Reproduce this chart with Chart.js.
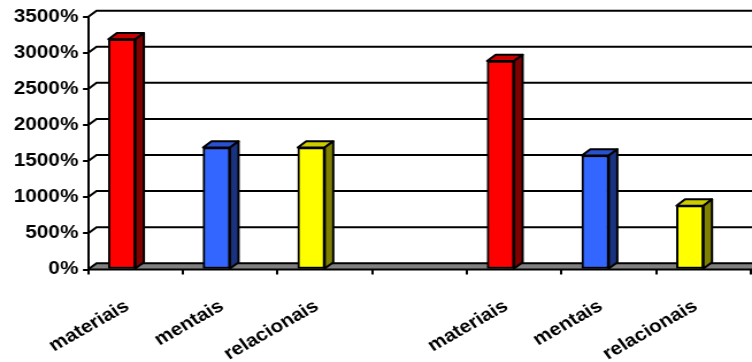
<!DOCTYPE html>
<html>
<head>
<meta charset="utf-8">
<script src="https://cdn.jsdelivr.net/npm/chart.js@4/dist/chart.umd.min.js"></script>
<style>
  html, body { margin: 0; padding: 0; background: #fff; overflow: hidden; }
  #chart { display: block; }
</style>
</head>
<body>
<canvas id="chart" width="654" height="362" style="width:752px;height:362px"></canvas>
<script>
// Categories along the floor (an empty slot separates the two groups)
const categories = ['materiais', 'mentais', 'relacionais', '', 'materiais', 'mentais', 'relacionais'];
// Column heights, in percent
const percentValues = [3190, 1690, 1690, null, 2890, 1580, 885];
// Value axis ticks
const yMin = 0;
const yMax = 3500;
const yStep = 500;

// Face colours per kind of column
const frontColors = ['#FF0000', '#3366FF', '#FFFF00', '#FFFFFF', '#FF0000', '#3366FF', '#FFFF00'];
const sideColors  = ['#800000', '#1A3380', '#808000', '#FFFFFF', '#800000', '#1A3380', '#808000'];
const topColors   = ['#C80000', '#2A52D0', '#CCCC00', '#FFFFFF', '#C80000', '#2A52D0', '#CCCC00'];

// The canvas is drawn narrower and widened by CSS, giving the wide lettering
const STRETCH = 752 / 654;
const DEPTH_X = 8.5 / STRETCH;
const DEPTH_Y = 6.3;
const LINE = '#000000';
const FLOOR = '#808080';

const depth3d = {
  id: 'depth3d',
  afterDatasetsUpdate(chart) {
    // front face sits to the left of the category centre, depth goes to the right
    const xs = chart.scales.x;
    chart.getDatasetMeta(0).data.forEach((el, i) => {
      el.x = xs.getPixelForValue(i) - el.width / 2;
    });
  },
  beforeDatasetsDraw(chart) {
    const { ctx, chartArea: a, scales: { y } } = chart;
    const w = chart.width;
    ctx.save();
    // floor
    const y0 = y.getPixelForValue(0);
    ctx.fillStyle = FLOOR;
    ctx.beginPath();
    ctx.moveTo(a.left, y0);
    ctx.lineTo(a.right + 20, y0);
    ctx.lineTo(a.right + 20, y0 - DEPTH_Y);
    ctx.lineTo(a.left + DEPTH_X, y0 - DEPTH_Y);
    ctx.closePath();
    ctx.fill();
    // back wall grid lines and side-wall diagonals
    ctx.strokeStyle = LINE;
    ctx.lineWidth = 2;
    ctx.lineCap = 'butt';
    for (let v = yMin; v <= yMax; v += yStep) {
      const py = y.getPixelForValue(v);
      ctx.beginPath();
      ctx.moveTo(a.left, py);
      ctx.lineTo(a.left + DEPTH_X, py - DEPTH_Y);
      ctx.lineTo(w + 5, py - DEPTH_Y);
      ctx.stroke();
    }
    // front edge of the floor
    ctx.beginPath();
    ctx.moveTo(a.left, y0);
    ctx.lineTo(w + 5, y0);
    ctx.stroke();
    ctx.restore();
  },
  afterDatasetsDraw(chart) {
    const { ctx } = chart;
    ctx.save();
    ctx.strokeStyle = LINE;
    ctx.lineWidth = 2;
    ctx.lineJoin = 'round';
    chart.getDatasetMeta(0).data.forEach((el, i) => {
      if (percentValues[i] === null) return;
      const { x, y, base, width } = el.getProps(['x', 'y', 'base', 'width'], true);
      const l = x - width / 2, r = x + width / 2;
      // top face
      ctx.fillStyle = topColors[i];
      ctx.beginPath();
      ctx.moveTo(l, y);
      ctx.lineTo(l + DEPTH_X, y - DEPTH_Y);
      ctx.lineTo(r + DEPTH_X, y - DEPTH_Y);
      ctx.lineTo(r, y);
      ctx.closePath();
      ctx.fill();
      ctx.stroke();
      // side face
      ctx.fillStyle = sideColors[i];
      ctx.beginPath();
      ctx.moveTo(r, y);
      ctx.lineTo(r + DEPTH_X, y - DEPTH_Y);
      ctx.lineTo(r + DEPTH_X, base - DEPTH_Y);
      ctx.lineTo(r, base);
      ctx.closePath();
      ctx.fill();
      ctx.stroke();
    });
    ctx.restore();
  }
};

const tickFont = { family: "'Liberation Sans', Arial, sans-serif", size: 18, weight: 'bold' };

new Chart(document.getElementById('chart'), {
  type: 'bar',
  data: {
    labels: categories,
    datasets: [{
      data: percentValues,
      backgroundColor: frontColors,
      borderColor: LINE,
      borderWidth: 2,
      borderSkipped: false,
      barThickness: 27 / STRETCH
    }]
  },
  options: {
    responsive: false,
    devicePixelRatio: 1,
    animation: false,
    layout: { padding: { top: 17, right: 1, left: 0, bottom: 0 } },
    plugins: { legend: { display: false }, tooltip: { enabled: false } },
    scales: {
      x: {
        type: 'category',
        offset: true,
        grid: { offset: true, drawOnChartArea: false, drawTicks: true, tickLength: 5, color: LINE, lineWidth: 2 },
        border: { display: false },
        ticks: {
          autoSkip: false, minRotation: 33, maxRotation: 33,
          padding: 21, labelOffset: -7, color: '#000', font: tickFont
        },
        afterFit(scale) { scale.height = 362 - 269.5; }
      },
      y: {
        min: yMin, max: yMax,
        grid: { drawOnChartArea: false, drawTicks: true, tickLength: 4.4, color: LINE, lineWidth: 2 },
        border: { display: true, color: LINE, width: 2 },
        ticks: {
          stepSize: yStep, padding: 4, color: '#000', font: tickFont,
          callback: (v) => v + '%'
        },
        afterFit(scale) { scale.width = 88 / STRETCH; }
      }
    }
  },
  plugins: [depth3d]
});
</script>
</body>
</html>
